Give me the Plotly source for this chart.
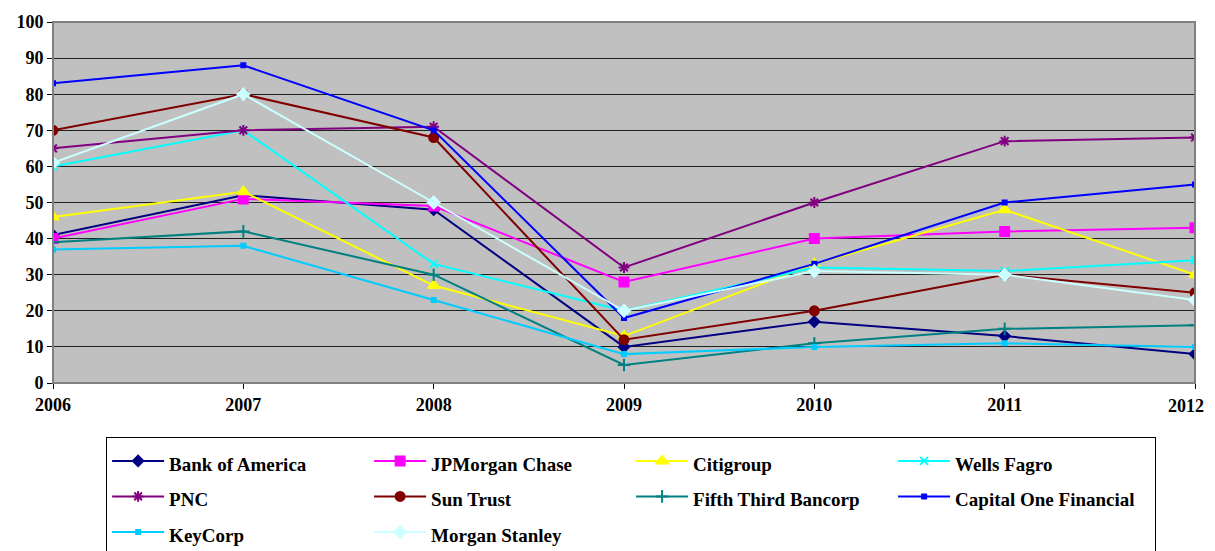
import plotly.graph_objects as go

years = [2006, 2007, 2008, 2009, 2010, 2011, 2012]
year_labels = ["2006", "2007", "2008", "2009", "2010", "2011", "2012"]
y_ticks = [0, 10, 20, 30, 40, 50, 60, 70, 80, 90, 100]

bank_of_america = [41, 52, 48, 10, 17, 13, 8]
jpmorgan_chase = [40, 51, 49, 28, 40, 42, 43]
citigroup = [46, 53, 27, 13, 33, 48, 30]
wells_fargo = [60, 70, 33, 20, 32, 31, 34]
pnc = [65, 70, 71, 32, 50, 67, 68]
sun_trust = [70, 80, 68, 12, 20, 30, 25]
fifth_third = [39, 42, 30, 5, 11, 15, 16]
capital_one = [83, 88, 70, 18, 33, 50, 55]
keycorp = [37, 38, 23, 8, 10, 11, 10]
morgan_stanley = [61, 80, 50, 20, 31, 30, 23]

series = [
    ("Bank of America", bank_of_america, "#000080", "diamond", 8),
    ("JPMorgan Chase", jpmorgan_chase, "#FF00FF", "square", 9),
    ("Citigroup", citigroup, "#FFFF00", "triangle-up", 10),
    ("Wells Fagro", wells_fargo, "#00FFFF", "x-thin", 8),
    ("PNC", pnc, "#800080", "asterisk", 9),
    ("Sun Trust", sun_trust, "#800000", "circle", 9),
    ("Fifth Third Bancorp", fifth_third, "#008080", "cross-thin", 9),
    ("Capital One Financial", capital_one, "#0000FF", "square", 4),
    ("KeyCorp", keycorp, "#00CCFF", "square", 4),
    ("Morgan Stanley", morgan_stanley, "#CCFFFF", "diamond", 9),
]

fig = go.Figure()
for name, vals, color, sym, size in series:
    fig.add_trace(go.Scatter(
        x=years, y=vals,
        name=f'<span style="font-size:19px"><b>{name}</b></span>',
        mode="lines+markers",
        line=dict(color=color, width=2),
        marker=dict(symbol=sym, size=size, color=color,
                    line=dict(color=color, width=2)),
        hovertext=[name] * len(years),
    ))

font_family = "Liberation Serif"
# last x label is drawn right-aligned so it is not clipped at the page edge
x_ticktext = [f"<b>{t}</b>" for t in year_labels[:-1]] + [""]

# page body has an 8px margin, so the figure is shifted 8px right and down
fig.update_layout(
    width=1207, height=543,
    margin=dict(l=45, r=20, t=14, b=168, autoexpand=False),
    paper_bgcolor="white",
    plot_bgcolor="#C0C0C0",
    font=dict(family=font_family, color="black", size=18),
    xaxis=dict(
        range=[2006, 2012], tickvals=years,
        ticktext=x_ticktext,
        showgrid=False, zeroline=False, automargin=False,
        showline=True, linecolor="black", linewidth=1,
        ticks="outside", ticklen=5, tickcolor="black",
        tickfont=dict(family=font_family, size=18, color="black"),
    ),
    yaxis=dict(
        range=[0, 100], tickvals=y_ticks,
        ticktext=[f"<b>{v}</b>" for v in y_ticks], automargin=False,
        showgrid=True, gridcolor="#202020", gridwidth=1,
        zeroline=False,
        showline=True, linecolor="black", linewidth=1,
        ticks="outside", ticklen=5, tickcolor="black",
        tickfont=dict(family=font_family, size=18, color="black"),
    ),
    legend=dict(
        orientation="h",
        x=0.0465, xanchor="left",
        y=-0.15, yanchor="top",
        entrywidth=195, entrywidthmode="pixels",
        itemwidth=52,
        bgcolor="white", bordercolor="black", borderwidth=1,
        font=dict(family=font_family, size=25, color="black"),
        traceorder="normal",
    ),
    showlegend=True,
)
fig.add_annotation(
    x=years[-1], y=0, xref="x", yref="y",
    text=f"<b>{year_labels[-1]}</b>", showarrow=False,
    xanchor="right", yanchor="top", xshift=11, yshift=-11,
    font=dict(family=font_family, size=18, color="black"),
)
fig.add_shape(type="rect", xref="paper", yref="paper", x0=0, y0=0, x1=1, y1=1,
              line=dict(color="#808080", width=2), fillcolor="rgba(0,0,0,0)", layer="above")

fig.write_html("out.html")
